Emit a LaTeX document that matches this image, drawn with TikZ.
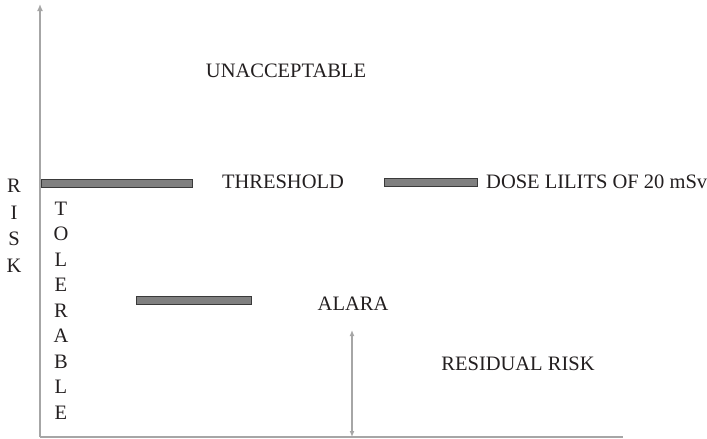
\documentclass[tikz,border=0pt]{standalone}
\usepackage{fontspec}
\setmainfont{Liberation Serif}
\usetikzlibrary{arrows.meta}
\definecolor{axisgray}{HTML}{A6A6A6}
\definecolor{barfill}{HTML}{808080}
\definecolor{barline}{HTML}{3A3A3A}
\definecolor{txt}{HTML}{231F20}
\tikzset{
  axisline/.style={draw=axisgray, line width=1.6pt},
  tipstyle/.style={-{Latex[length=7pt,width=6pt]}},
  bar/.style={draw=barline, fill=barfill, line width=0.8pt, minimum height=8pt, inner sep=0pt, rectangle},
  lbl/.style={text=txt, font=\fontsize{20.5}{24}\selectfont, inner sep=0pt},
  letter/.style={text=txt, font=\fontsize{20.5}{24}\selectfont, inner sep=0pt, anchor=center}
}
\begin{document}
\begin{tikzpicture}[x=1pt,y=-1pt]
\useasboundingbox (0,0) rectangle (707,439);
% axes
\coordinate (o) at (40,437);
\coordinate (ytop) at (40,4);
\coordinate (xend) at (623,437);
\draw[axisline, tipstyle] (o) -- (ytop);
\draw[axisline] (o) -- (xend);
% bars
\node[bar, minimum width=151pt] (b1) at (116.5,183) {};
\node[bar, minimum width=93pt] (b2) at (430.5,182) {};
\node[bar, minimum width=115pt] (b3) at (193.5,300.5) {};
% labels
\node[lbl] (unacc) at (286,71) {UNACCEPTABLE};
\node[lbl] (thr) at (283,182) {THRESHOLD};
\node[lbl, anchor=west] (dose) at (486,182) {DOSE LILITS OF 20 mSv};
\node[lbl] (alara) at (353,304) {ALARA};
\node[lbl] (resid) at (518,364) {RESIDUAL RISK};
% RISK
\node[letter] (r1) at (14,186) {R};
\node[letter] (r2) at (14,212.5) {I};
\node[letter] (r3) at (14,239) {S};
\node[letter] (r4) at (14,265.5) {K};
% TOLERABLE
\node[letter] (t1) at (61,208.5) {T};
\node[letter] (t2) at (61,234) {O};
\node[letter] (t3) at (61,259.5) {L};
\node[letter] (t4) at (61,285) {E};
\node[letter] (t5) at (61,310.5) {R};
\node[letter] (t6) at (61,336) {A};
\node[letter] (t7) at (61,361.5) {B};
\node[letter] (t8) at (61,387) {L};
\node[letter] (t9) at (61,412.5) {E};
% residual arrow
\coordinate (ra) at (352,330);
\coordinate (rb) at (352,437);
\draw[draw=axisgray, line width=1.2pt, {Latex[length=6pt,width=5pt]}-{Latex[length=6pt,width=5pt]}] (rb) -- (ra);
\end{tikzpicture}
\end{document}
